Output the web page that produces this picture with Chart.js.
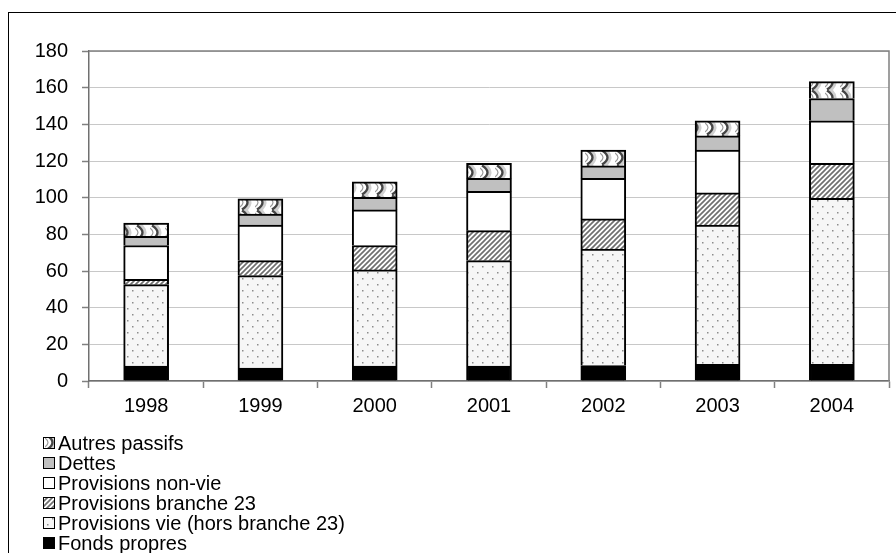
<!DOCTYPE html>
<html>
<head>
<meta charset="utf-8">
<script src="https://cdn.jsdelivr.net/npm/chart.js@4.4.1/dist/chart.umd.min.js"></script>
<style>
  html, body { margin: 0; padding: 0; background: #fff; overflow: hidden; }
  #wrap { position: relative; width: 896px; height: 553px; }
  #frame { position: absolute; left: 8px; top: 12px; width: 1000px; height: 1000px;
           border: 1px solid #000; box-sizing: border-box; pointer-events: none; }
  canvas { position: absolute; left: 0; top: 0; }
</style>
</head>
<body>
<div id="wrap">
  <canvas id="chart" width="896" height="553"></canvas>
  <div id="frame"></div>
</div>
<script>
// Bilan des entreprises d'assurance, 1998-2004
const years = ['1998', '1999', '2000', '2001', '2002', '2003', '2004'];
const fondsPropres     = [8.2, 7.1, 8.2, 8.2, 8.4, 9.1, 9.1];
const provisionsVie    = [44.4, 50.4, 52.4, 57.5, 63.5, 76.0, 90.5];
const provisionsB23    = [2.8, 8.2, 13.3, 16.3, 16.5, 17.5, 19.1];
const provisionsNonVie = [18.5, 19.4, 19.4, 21.4, 22.1, 23.4, 23.2];
const dettes           = [5.0, 6.0, 6.9, 7.1, 6.8, 7.7, 12.2];
const autresPassifs    = [7.3, 8.2, 8.5, 8.2, 8.7, 8.2, 9.2];
const yTicks = [0, 20, 40, 60, 80, 100, 120, 140, 160, 180];

const FONT = '"Liberation Sans", Arial, sans-serif';
const FONT_SIZE = 20;

// ---- fill patterns ----
function tile(w, h, paint) {
  const c = document.createElement('canvas');
  c.width = w; c.height = h;
  const g = c.getContext('2d');
  paint(g, w, h);
  return document.getElementById('chart').getContext('2d').createPattern(c, 'repeat');
}

const dotPattern = tile(10, 12, (g, w, h) => {
  g.fillStyle = '#f6f6f6'; g.fillRect(0, 0, w, h);
  g.fillStyle = '#8c8c8c';
  g.fillRect(2, 2, 1.5, 1.5);
  g.fillRect(7, 8, 1.5, 1.5);
});

const hatchPattern = tile(5, 5, (g, w, h) => {
  g.fillStyle = '#ffffff'; g.fillRect(0, 0, w, h);
  g.strokeStyle = '#707070'; g.lineWidth = 1.7;
  g.beginPath();
  g.moveTo(-1, 1); g.lineTo(1, -1);
  g.moveTo(0, 5); g.lineTo(5, 0);
  g.moveTo(4, 6); g.lineTo(6, 4);
  g.stroke();
});

const wavePattern = tile(15, 15, (g, w, h) => {
  g.fillStyle = '#ffffff'; g.fillRect(0, 0, w, h);
  g.fillStyle = '#d0d0d0';
  g.beginPath();
  g.moveTo(3, 0); g.quadraticCurveTo(14, 7.5, 3, 15); g.lineTo(8, 15);
  g.quadraticCurveTo(15, 7.5, 8, 0); g.closePath(); g.fill();
  g.strokeStyle = '#454545'; g.lineWidth = 2.4;
  g.beginPath();
  g.moveTo(2, 0.5); g.quadraticCurveTo(13, 7.5, 2, 14.5);
  g.stroke();
  g.strokeStyle = '#9a9a9a'; g.lineWidth = 1.2;
  g.beginPath();
  g.moveTo(0, 3); g.quadraticCurveTo(6, 7.5, 0, 12);
  g.stroke();
});

// ---- datasets, bottom to top ----
const series = [
  { label: 'Fonds propres', data: fondsPropres, fill: '#000000' },
  { label: 'Provisions vie (hors branche 23)', data: provisionsVie, fill: dotPattern },
  { label: 'Provisions branche 23', data: provisionsB23, fill: hatchPattern },
  { label: 'Provisions non-vie', data: provisionsNonVie, fill: '#ffffff' },
  { label: 'Dettes', data: dettes, fill: '#c0c0c0' },
  { label: 'Autres passifs', data: autresPassifs, fill: wavePattern }
];

// Plot frame (top and right edges) and the vertical legend under the chart
const frameAndLegend = {
  id: 'frameAndLegend',
  beforeDatasetsDraw(chart) {
    const { ctx, chartArea: a } = chart;
    ctx.save();
    ctx.strokeStyle = '#808080';
    ctx.lineWidth = 1.5;
    ctx.beginPath();
    ctx.moveTo(a.left, a.top);
    ctx.lineTo(a.right, a.top);
    ctx.lineTo(a.right, a.bottom);
    ctx.stroke();
    ctx.restore();
  },
  afterDraw(chart) {
    const { ctx } = chart;
    const sets = chart.data.datasets.slice().reverse();
    const x0 = 43, box = 12, textX = 58, y0 = 443, step = 20;
    ctx.save();
    ctx.font = FONT_SIZE + 'px ' + FONT;
    ctx.textBaseline = 'middle';
    ctx.textAlign = 'left';
    sets.forEach((ds, i) => {
      const cy = y0 + i * step;
      ctx.fillStyle = ds.backgroundColor;
      ctx.fillRect(x0, cy - box / 2, box, box);
      ctx.strokeStyle = '#000';
      ctx.lineWidth = 1;
      ctx.strokeRect(x0 + 0.5, cy - box / 2 + 0.5, box - 1, box - 1);
      ctx.fillStyle = '#000';
      ctx.fillText(ds.label, textX, cy + 1);
    });
    ctx.restore();
  }
};

new Chart(document.getElementById('chart'), {
  type: 'bar',
  data: {
    labels: years,
    datasets: series.map(s => ({
      label: s.label,
      data: s.data,
      backgroundColor: s.fill,
      borderColor: '#000000',
      borderWidth: 2,
      barThickness: 45
    }))
  },
  options: {
    responsive: false,
    animation: false,
    layout: { padding: { left: 0, top: 51, right: 7, bottom: 0 } },
    plugins: {
      legend: { display: false },
      tooltip: { enabled: false }
    },
    scales: {
      x: {
        stacked: true,
        grid: { display: true, drawOnChartArea: false, offset: true,
                tickLength: 7, tickColor: '#808080', tickWidth: 1.5 },
        border: { display: true, color: '#707070', width: 1.5 },
        ticks: { color: '#000', padding: 6, font: { family: FONT, size: FONT_SIZE } },
        afterFit(s) { s.height = 172; }
      },
      y: {
        stacked: true,
        min: 0,
        max: 180,
        afterBuildTicks(s) { s.ticks = yTicks.map(v => ({ value: v })); },
        grid: { color: '#c8c8c8', lineWidth: 1, tickLength: 7,
                tickColor: '#808080', tickWidth: 1.5 },
        border: { display: true, color: '#707070', width: 1.5 },
        ticks: { color: '#000', padding: 14, font: { family: FONT, size: FONT_SIZE } },
        afterFit(s) { s.width = 89; }
      }
    }
  },
  plugins: [frameAndLegend]
});
</script>
</body>
</html>
